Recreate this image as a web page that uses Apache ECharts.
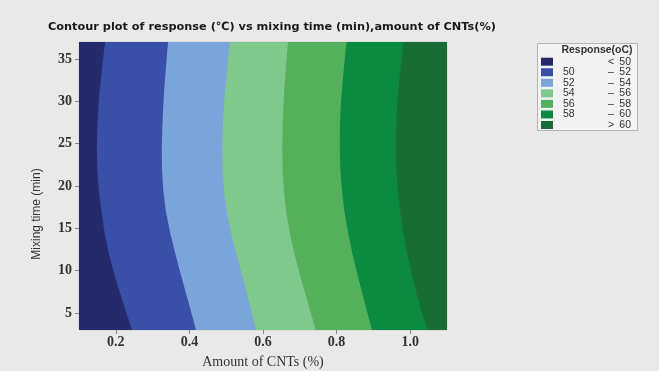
<!DOCTYPE html>
<html>
<head>
<meta charset="utf-8">
<script src="https://cdn.jsdelivr.net/npm/echarts@6/dist/echarts.min.js"></script>
<style>
  html, body { margin: 0; padding: 0; background: #e9e9e9; }
  #chart { width: 659px; height: 371px; }
</style>
</head>
<body>
<div id="chart"></div>
<script>
// mixing time (min) rows at which the contour lines were read
const mixingTime = [37, 32, 27, 22, 17, 12, 7, 3]
// amount of CNTs (%) where each contour line crosses those rows
const contour50 = [0.171, 0.157, 0.149, 0.148, 0.160, 0.179, 0.214, 0.244]
const contour52 = [0.342, 0.332, 0.326, 0.324, 0.334, 0.361, 0.393, 0.418]
const contour54 = [0.510, 0.498, 0.490, 0.489, 0.499, 0.527, 0.559, 0.581]
const contour56 = [0.668, 0.658, 0.653, 0.652, 0.661, 0.684, 0.717, 0.743]
const contour58 = [0.827, 0.815, 0.808, 0.809, 0.820, 0.842, 0.872, 0.896]
const contour60 = [0.982, 0.968, 0.961, 0.961, 0.972, 0.991, 1.018, 1.047]
const levels = [50, 52, 54, 56, 58, 60]
const xTicks = [0.2, 0.4, 0.6, 0.8, 1.0]
const yTicks = [5, 10, 15, 20, 25, 30, 35]

const bandColors = ["#242a6c", "#3a4fa7", "#7ba5da", "#80c98c", "#55b05b", "#0c8a41", "#186d37"]
const xMin = 0.1, xMax = 1.1, yMin = 3, yMax = 37
const contours = [contour50, contour52, contour54, contour56, contour58, contour60]

const chart = echarts.init(document.getElementById("chart"))

// band k = everything left of its upper contour, drawn from the top band down
const bandPath = (k, api) => {
  const tl = api.coord([xMin, yMax])
  const bl = api.coord([xMin, yMin])
  if (k === contours.length) {
    const tr = api.coord([xMax, yMax])
    return `M${tl[0]} ${tl[1]} L${tr[0]} ${tr[1]} L${tr[0]} ${bl[1]} L${bl[0]} ${bl[1]} Z`
  }
  const pts = contours[k].map((x, i) => api.coord([x, mixingTime[i]]))
  let d = `M${tl[0]} ${tl[1]} L${pts[0][0]} ${pts[0][1]}`
  for (let i = 1; i < pts.length - 1; i++) {
    const mx = (pts[i][0] + pts[i + 1][0]) / 2
    const my = (pts[i][1] + pts[i + 1][1]) / 2
    d += ` Q${pts[i][0]} ${pts[i][1]} ${mx} ${my}`
  }
  const last = pts[pts.length - 1]
  d += ` L${last[0]} ${last[1]} L${bl[0]} ${bl[1]} Z`
  return d
}

const series = []
for (let k = contours.length; k >= 0; k--) {
  series.push({
    type: "custom",
    clip: true,
    silent: true,
    data: [[xMin, yMin]],
    renderItem: (params, api) => ({
      type: "path",
      shape: { pathData: bandPath(k, api) },
      style: { fill: bandColors[k], stroke: null }
    })
  })
}

// legend built from the levels
const legendRows = [["", "<", levels[0]]]
for (let i = 1; i < levels.length; i++) legendRows.push([levels[i - 1], "\u2013", levels[i]])
legendRows.push(["", ">", levels[levels.length - 1]])

const legendFont = { fontFamily: "Liberation Sans", fontSize: 10.5, fill: "#333" }
const legendItems = [
  { type: "rect", shape: { x: 537.5, y: 43.5, width: 100, height: 87 }, style: { fill: "#f3f3f3", stroke: "#b5b5b5", lineWidth: 1 } },
  { type: "text", x: 597, y: 50.5, style: { text: "Response(oC)", fontFamily: "Liberation Sans", fontWeight: "bold", fontSize: 10.5, fill: "#333", align: "center", verticalAlign: "middle" } }
]
legendRows.forEach((row, i) => {
  const cy = 61.7 + i * 10.55
  legendItems.push({ type: "rect", shape: { x: 541, y: cy - 4, width: 12, height: 8 }, style: { fill: bandColors[i] } })
  legendItems.push({ type: "text", x: 563, y: cy, style: Object.assign({ text: String(row[0]), align: "left", verticalAlign: "middle" }, legendFont) })
  legendItems.push({ type: "text", x: 611, y: cy, style: Object.assign({ text: row[1], align: "center", verticalAlign: "middle" }, legendFont) })
  legendItems.push({ type: "text", x: 631, y: cy, style: Object.assign({ text: String(row[2]), align: "right", verticalAlign: "middle" }, legendFont) })
})

chart.setOption({
  backgroundColor: "#e9e9e9",
  animation: false,
  title: {
    text: "Contour plot of response (\u2103) vs mixing time (min),amount of CNTs(%)",
    left: 43,
    top: 17,
    textStyle: { fontFamily: "DejaVu Sans", fontWeight: "bold", fontSize: 11.3, color: "#1a1a1a" }
  },
  grid: {
    left: 79, right: 212, top: 42, bottom: 41,
    outerBoundsMode: "none",
    show: true, borderColor: "#c9d3c9", borderWidth: 1, backgroundColor: "transparent"
  },
  xAxis: {
    type: "value",
    min: xMin,
    max: xMax,
    name: "Amount of CNTs (%)",
    nameLocation: "middle",
    nameGap: 25,
    nameTextStyle: { fontFamily: "Liberation Serif", fontSize: 14, color: "#333" },
    axisLine: { show: false },
    axisTick: { show: true, length: 4, lineStyle: { color: "#888" }, customValues: xTicks },
    axisLabel: {
      margin: 5,
      fontFamily: "Liberation Serif",
      fontWeight: "bold",
      fontSize: 14,
      color: "#333",
      customValues: xTicks,
      formatter: (v) => v.toFixed(1)
    },
    splitLine: { show: false }
  },
  yAxis: {
    type: "value",
    min: yMin,
    max: yMax,
    name: "Mixing time (min)",
    nameLocation: "middle",
    nameGap: 36,
    nameTextStyle: { fontFamily: "Liberation Sans", fontSize: 12, color: "#333", padding: [0, 56, 0, 0] },
    axisLine: { show: false },
    axisTick: { show: true, length: 4, lineStyle: { color: "#888" }, customValues: yTicks },
    axisLabel: {
      margin: 7,
      fontFamily: "Liberation Serif",
      fontWeight: "bold",
      fontSize: 14,
      color: "#333",
      customValues: yTicks
    },
    splitLine: { show: false }
  },
  graphic: legendItems,
  series: series
})
</script>
</body>
</html>
